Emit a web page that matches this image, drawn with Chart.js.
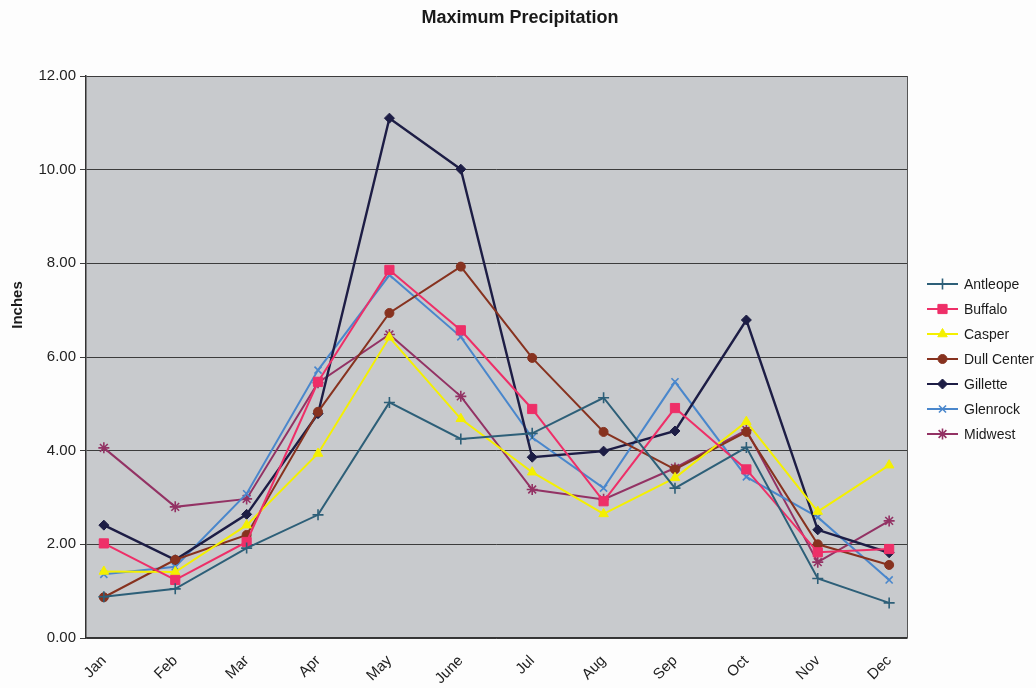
<!DOCTYPE html>
<html>
<head>
<meta charset="utf-8">
<script src="https://cdn.jsdelivr.net/npm/chart.js@4/dist/chart.umd.min.js"></script>
<style>
  body { margin: 0; background: #fdfdfd; }
  #wrap { width: 1036px; height: 688px; }
</style>
</head>
<body>
<div id="wrap"><canvas id="precipChart"></canvas></div>
<script>
// precipitation data
const months = ['Jan', 'Feb', 'Mar', 'Apr', 'May', 'June', 'Jul', 'Aug', 'Sep', 'Oct', 'Nov', 'Dec'];
const yTicks = [0, 2, 4, 6, 8, 10, 12];

const antleope   = [0.88, 1.05, 1.92, 2.63, 5.03, 4.25, 4.37, 5.13, 3.20, 4.07, 1.27, 0.75];
const buffalo    = [2.02, 1.24, 2.05, 5.47, 7.86, 6.57, 4.89, 2.92, 4.91, 3.60, 1.83, 1.90];
const casper     = [1.42, 1.41, 2.41, 3.94, 6.42, 4.68, 3.54, 2.65, 3.42, 4.62, 2.70, 3.69];
const dullCenter = [0.87, 1.67, 2.20, 4.83, 6.94, 7.93, 5.98, 4.40, 3.60, 4.40, 2.00, 1.56];
const gillette   = [2.41, 1.67, 2.64, 4.79, 11.10, 10.01, 3.86, 3.99, 4.42, 6.79, 2.31, 1.82];
const glenrock   = [1.36, 1.52, 3.08, 5.72, 7.75, 6.43, 4.28, 3.20, 5.47, 3.44, 2.58, 1.24];
const midwest    = [4.06, 2.80, 2.97, 5.45, 6.48, 5.16, 3.17, 2.96, 3.63, 4.44, 1.62, 2.50];

const FONT = 'Arial, "Liberation Sans", sans-serif';

function series(label, values, color, style, radius, width) {
  return {
    label: label,
    data: values.map((v, i) => ({ x: i, y: v })),
    borderColor: color,
    backgroundColor: color,
    borderWidth: width || 2,
    pointStyle: style,
    pointRadius: radius,
    pointBackgroundColor: color,
    pointBorderColor: color,
    pointBorderWidth: (style === 'cross' || style === 'crossRot' || style === 'star') ? 1.6 : 1,
    tension: 0
  };
}

const datasets = [
  series('Antleope', antleope, '#2d5f78', 'cross', 5.5),
  series('Buffalo', buffalo, '#ee2f68', 'rect', 6.5),
  series('Casper', casper, '#f4f000', 'triangle', 5.5),
  series('Dull Center', dullCenter, '#87321f', 'circle', 4.5),
  series('Gillette', gillette, '#1d1d45', 'rectRot', 5, 2.4),
  series('Glenrock', glenrock, '#4a87cc', 'crossRot', 5),
  series('Midwest', midwest, '#933264', 'star', 5.5)
];

// grey plot area + frame
const plotBg = {
  id: 'plotBg',
  beforeDraw(chart) {
    const { ctx, chartArea: a } = chart;
    ctx.save();
    ctx.fillStyle = '#c8cacd';
    ctx.fillRect(a.left, a.top, a.right - a.left, a.bottom - a.top);
    ctx.restore();
  },
  afterDatasetsDraw(chart) {
    const { ctx, chartArea: a } = chart;
    ctx.save();
    ctx.strokeStyle = '#555';
    ctx.lineWidth = 1;
    ctx.beginPath();
    ctx.moveTo(a.right + 0.5, a.top);
    ctx.lineTo(a.right + 0.5, a.bottom);
    ctx.stroke();
    ctx.restore();
  }
};

// title, y title and Excel-style legend (line + marker)
const extras = {
  id: 'extras',
  afterDraw(chart) {
    const ctx = chart.ctx;
    ctx.save();
    ctx.fillStyle = '#1a1a1a';
    ctx.textAlign = 'center';
    ctx.textBaseline = 'middle';
    ctx.font = 'bold 18px ' + FONT;
    ctx.fillText('Maximum Precipitation', 520, 18);

    ctx.save();
    ctx.translate(18, 305);
    ctx.rotate(-Math.PI / 2);
    ctx.font = 'bold 15px ' + FONT;
    ctx.fillText('Inches', 0, 0);
    ctx.restore();

    chart.data.datasets.forEach((ds, i) => {
      const y = 284 + i * 25;
      ctx.strokeStyle = ds.borderColor;
      ctx.lineWidth = 2;
      ctx.beginPath();
      ctx.moveTo(927, y);
      ctx.lineTo(958, y);
      ctx.stroke();
      ctx.fillStyle = ds.pointBackgroundColor;
      ctx.strokeStyle = ds.pointBorderColor;
      ctx.lineWidth = ds.pointBorderWidth;
      Chart.helpers.drawPoint(ctx, {
        pointStyle: ds.pointStyle,
        radius: ds.pointRadius,
        rotation: 0,
        borderWidth: ds.pointBorderWidth
      }, 942.5, y);
      ctx.fillStyle = '#1a1a1a';
      ctx.textAlign = 'left';
      ctx.font = '14px ' + FONT;
      ctx.fillText(ds.label, 964, y + 1);
    });
    ctx.restore();
  }
};

new Chart(document.getElementById('precipChart'), {
  type: 'line',
  data: { datasets: datasets },
  options: {
    responsive: true,
    maintainAspectRatio: false,
    animation: false,
    layout: { padding: { left: 0, top: 76, right: 129, bottom: 0 } },
    plugins: {
      legend: { display: false },
      title: { display: false },
      tooltip: { enabled: false }
    },
    scales: {
      x: {
        type: 'linear',
        min: -0.25,
        max: 11.25,
        afterBuildTicks: (scale) => { scale.ticks = months.map((m, i) => ({ value: i })); },
        afterFit: (scale) => { scale.height = 50; },
        grid: { display: false, drawTicks: false },
        border: { display: true, color: '#333', width: 1.5 },
        ticks: {
          autoSkip: false,
          minRotation: 45,
          maxRotation: 45,
          padding: 14,
          color: '#222',
          font: { family: FONT, size: 15 },
          callback: (v) => months[v]
        }
      },
      y: {
        min: 0,
        max: 12,
        afterBuildTicks: (scale) => { scale.ticks = yTicks.map(v => ({ value: v })); },
        afterFit: (scale) => { scale.width = 86; },
        grid: { color: '#3c3c3c', lineWidth: 1, tickLength: 6, drawTicks: true },
        border: { display: true, color: '#333', width: 1.5 },
        ticks: {
          padding: 4,
          color: '#222',
          font: { family: FONT, size: 15 },
          callback: (v) => Number(v).toFixed(2)
        }
      }
    }
  },
  plugins: [plotBg, extras]
});
</script>
</body>
</html>
